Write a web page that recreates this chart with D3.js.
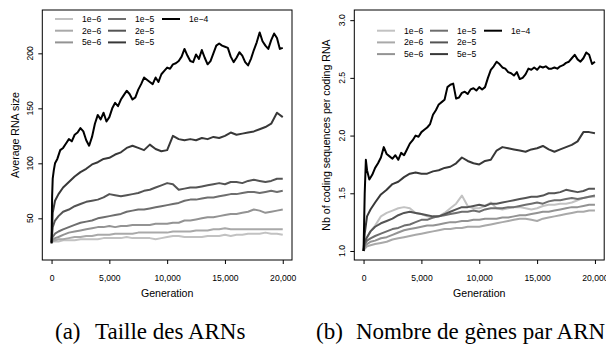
<!DOCTYPE html>
<html><head><meta charset="utf-8">
<script src="https://cdn.jsdelivr.net/npm/d3@7"></script>
<style>body{margin:0;background:#fff}svg{display:block}</style>
</head><body>
<script>
// ---------- data ----------
const rates = ["1e\u22126","2e\u22126","5e\u22126","1e\u22125","2e\u22125","5e\u22125","1e\u22124"];
const rateColors = ["#c2c2c2","#a9a9a9","#939393","#6e6e6e","#545454","#383838","#000000"];
const xTicks = [0,5000,10000,15000,20000];
const yTicksSize = [50,100,150,200];
const yTicksGenes = [1.0,1.5,2.0,2.5,3.0];

const gensCoarse = [0,100,300,600,1000,1500,2000,2500,3000,3500,4000,4500,5000,5500,6000,6500,7000,7500,8000,8500,9000,9500,10000,10500,11000,11500,12000,12500,13000,13500,14000,14500,15000,15500,16000,16500,17000,17500,18000,18500,19000,19500,20000];
const gensFine = [0,50,100,200,300,500,750,1000,1250,1500,1750,2000,2250,2500,2750,3000,3250,3500,3750,4000,4250,4500,4750,5000,5250,5500,5750,6000,6250,6500,6750,7000,7250,7500,7750,8000,8250,8500,8750,9000,9250,9500,9750,10000,10250,10500,10750,11000,11250,11500,11750,12000,12250,12500,12750,13000,13250,13500,13750,14000,14250,14500,14750,15000,15250,15500,15750,16000,16250,16500,16750,17000,17250,17500,17750,18000,18250,18500,18750,19000,19250,19500,19750,20000];

// (a) average RNA size
const size1e6 = [28,29,29,29,30,30,30,31,31,31,31,32,32,32,32,33,32,32,32,32,31,32,33,34,34,33,33,33,33,34,34,34,35,34,35,35,36,36,36,37,36,36,35];
const size2e6 = [28,29,30,31,31,32,33,33,34,34,35,35,35,36,36,36,36,37,37,37,37,37,37,38,38,38,38,39,39,39,40,40,41,40,40,40,40,40,40,40,40,40,40];
const size5e6 = [28,30,32,33,35,37,38,39,40,41,42,42,43,42,43,43,44,44,44,44,45,45,45,46,46,48,48,49,50,51,51,52,53,54,54,55,56,58,57,55,56,57,58];
const size1e5 = [28,33,36,38,40,42,44,46,47,48,50,51,52,53,54,56,57,58,58,59,60,61,62,63,64,66,67,67,68,69,69,70,71,72,72,73,74,74,73,74,75,74,75];
const size2e5 = [28,42,48,52,56,58,61,63,65,66,67,69,72,71,70,71,72,73,75,76,78,80,82,81,76,77,78,78,79,80,81,82,81,83,83,82,84,85,84,83,84,86,86];
const size5e5 = [28,55,66,72,78,83,88,92,95,99,101,104,105,108,110,114,116,114,112,117,113,111,112,125,122,121,122,121,123,122,124,123,125,128,126,127,128,129,131,133,136,146,142];
const size1e4 = [27,70,86,94,100,104,112,114,118,122,120,126,128,132,129,121,116,124,136,144,140,146,138,142,150,155,152,158,162,166,163,158,160,167,172,178,176,174,172,178,174,181,184,187,186,190,191,193,197,204,198,193,192,199,195,203,196,190,193,200,207,209,207,206,205,197,192,196,201,198,192,189,195,203,210,219,211,207,204,212,218,214,204,205];

// (b) coding sequences per coding RNA
const genes1e6 = [1.0,1.08,1.12,1.17,1.22,1.30,1.33,1.35,1.37,1.38,1.37,1.33,1.32,1.30,1.29,1.30,1.33,1.37,1.41,1.48,1.39,1.37,1.37,1.39,1.42,1.37,1.36,1.37,1.38,1.38,1.37,1.36,1.37,1.39,1.40,1.40,1.41,1.41,1.42,1.44,1.46,1.47,1.47];
const genes2e6 = [1.0,1.02,1.04,1.05,1.06,1.07,1.08,1.10,1.11,1.12,1.13,1.14,1.15,1.16,1.17,1.18,1.19,1.19,1.20,1.20,1.21,1.21,1.21,1.22,1.23,1.24,1.25,1.26,1.27,1.28,1.28,1.27,1.26,1.28,1.29,1.30,1.31,1.32,1.33,1.34,1.34,1.35,1.35];
const genes5e6 = [1.0,1.04,1.06,1.08,1.09,1.11,1.12,1.14,1.16,1.18,1.19,1.20,1.21,1.22,1.22,1.23,1.24,1.25,1.25,1.26,1.26,1.27,1.27,1.28,1.28,1.28,1.29,1.29,1.30,1.31,1.31,1.32,1.33,1.34,1.34,1.35,1.36,1.37,1.38,1.38,1.39,1.40,1.40];
const genes1e5 = [1.0,1.06,1.09,1.11,1.13,1.15,1.17,1.19,1.20,1.22,1.23,1.25,1.27,1.27,1.29,1.30,1.31,1.32,1.33,1.34,1.34,1.35,1.34,1.36,1.37,1.37,1.37,1.38,1.38,1.39,1.40,1.41,1.42,1.41,1.43,1.44,1.44,1.45,1.46,1.45,1.46,1.47,1.48];
const genes2e5 = [1.0,1.08,1.12,1.17,1.21,1.24,1.26,1.28,1.31,1.33,1.34,1.33,1.32,1.31,1.30,1.30,1.32,1.34,1.36,1.38,1.38,1.39,1.40,1.39,1.41,1.41,1.42,1.43,1.44,1.45,1.46,1.47,1.47,1.48,1.50,1.50,1.51,1.53,1.52,1.51,1.52,1.54,1.54];
const genes5e5 = [1.0,1.15,1.30,1.36,1.42,1.49,1.53,1.58,1.60,1.64,1.67,1.68,1.67,1.67,1.69,1.70,1.72,1.73,1.76,1.81,1.78,1.76,1.75,1.78,1.79,1.87,1.90,1.89,1.88,1.87,1.86,1.88,1.89,1.91,1.88,1.86,1.88,1.90,1.92,1.95,2.03,2.03,2.02];
const genes1e4 = [1.0,1.25,1.5,1.79,1.70,1.62,1.66,1.72,1.76,1.81,1.90,1.84,1.82,1.80,1.83,1.79,1.85,1.83,1.88,1.93,1.96,2.00,1.99,2.03,2.05,2.07,2.10,2.18,2.22,2.27,2.29,2.31,2.42,2.44,2.45,2.32,2.33,2.37,2.38,2.36,2.40,2.41,2.39,2.42,2.40,2.42,2.50,2.57,2.60,2.64,2.62,2.59,2.58,2.55,2.54,2.52,2.55,2.49,2.50,2.53,2.58,2.57,2.59,2.57,2.60,2.59,2.60,2.58,2.58,2.59,2.58,2.60,2.61,2.63,2.64,2.67,2.70,2.66,2.64,2.67,2.72,2.70,2.62,2.64];

const sizeSeries = [size1e6,size2e6,size5e6,size1e5,size2e5,size5e5,size1e4];
const genesSeries = [genes1e6,genes2e6,genes5e6,genes1e5,genes2e5,genes5e5,genes1e4];

// ---------- drawing ----------
const W = 606, H = 344;
const svg = d3.select("body").append("svg").attr("width", W).attr("height", H)
  .style("font-family", "'Liberation Sans', Arial, sans-serif");

const panels = [
  {box:[42.3,292,10,260], yDomain:[12.1,239.4], series:sizeSeries, yTicks:yTicksSize,
   yFmt:d3.format("d"), yTitle:"Average RNA size", yLabX:33, yTitleX:18.5,
   legend:[55,19], caption:"(a)", capText:"Taille des ARNs", capX:55, capX2:95},
  {box:[354.3,604.2,10,260], yDomain:[0.922,3.088], series:genesSeries, yTicks:yTicksGenes,
   yFmt:d3.format(".1f"), yTitle:"Nb of coding sequences per coding RNA", yLabX:344.7, yTitleX:330,
   legend:[377,30.7], caption:"(b)", capText:"Nombre de g\u00e8nes par ARN", capX:316, capX2:356}
];

panels.forEach(p => {
  const [bx0,bx1,by0,by1] = p.box;
  const g = svg.append("g");
  const x = d3.scaleLinear().domain([-800,20800]).range([bx0,bx1]);
  const y = d3.scaleLinear().domain(p.yDomain).range([by1,by0]);

  // series lines
  p.series.forEach((vals,i) => {
    const gens = vals.length === gensFine.length ? gensFine : gensCoarse;
    const line = d3.line().x((d,j)=>x(gens[j])).y(d=>y(d));
    g.append("path").datum(vals).attr("d", line)
      .attr("fill","none").attr("stroke", rateColors[i])
      .attr("stroke-width",2).attr("stroke-linejoin","round");
  });

  // box
  g.append("rect").attr("x",bx0).attr("y",by0).attr("width",bx1-bx0).attr("height",by1-by0)
    .attr("fill","none").attr("stroke","#000").attr("stroke-width",1);

  // x axis
  const xa = g.append("g").attr("transform",`translate(0,${by1})`)
    .call(d3.axisBottom(x).tickValues(xTicks).tickFormat(d3.format(",")).tickSize(4).tickPadding(11));
  xa.select(".domain").remove();
  xa.selectAll("text").attr("font-size",8.6).attr("font-family","'Liberation Sans', Arial, sans-serif").attr("fill","#000");
  xa.selectAll("line").attr("stroke","#000");

  // y axis (ticks) + rotated labels
  const ya = g.append("g").attr("transform",`translate(${bx0},0)`)
    .call(d3.axisLeft(y).tickValues(p.yTicks).tickSize(4).tickFormat(""));
  ya.select(".domain").remove();
  ya.selectAll("line").attr("stroke","#000");
  g.selectAll(".ylab").data(p.yTicks).enter().append("text")
    .attr("transform", d => `translate(${p.yLabX},${y(d)}) rotate(-90)`)
    .attr("text-anchor","middle").attr("font-size",8.6).text(p.yFmt);

  // titles
  g.append("text").attr("x",(bx0+bx1)/2).attr("y",297).attr("text-anchor","middle")
    .attr("font-size",10.6).text("Generation");
  g.append("text").attr("transform",`translate(${p.yTitleX},${(by0+by1)/2}) rotate(-90)`)
    .attr("text-anchor","middle").attr("font-size",10.6).text(p.yTitle);

  // legend
  const [lx,ly] = p.legend;
  const colOff = [0,53,107], rowOff = [0,11.7,23.4];
  rates.forEach((r,i) => {
    const c = Math.floor(i/3), rr = i%3;
    const cx = lx + colOff[c], cy = ly + rowOff[rr];
    g.append("line").attr("x1",cx).attr("x2",cx+18).attr("y1",cy).attr("y2",cy)
      .attr("stroke",rateColors[i]).attr("stroke-width",2);
    g.append("text").attr("x",cx+27).attr("y",cy).attr("dy","0.35em")
      .attr("font-size",8.6).text(r);
  });

  // caption
  const cap = svg.append("text").attr("y",339).attr("font-size",23)
    .attr("font-family","'Liberation Serif', 'Times New Roman', serif").attr("fill","#000");
  cap.append("tspan").attr("x",p.capX).text(p.caption);
  cap.append("tspan").attr("x",p.capX2).text(p.capText);
});
</script>
</body></html>
